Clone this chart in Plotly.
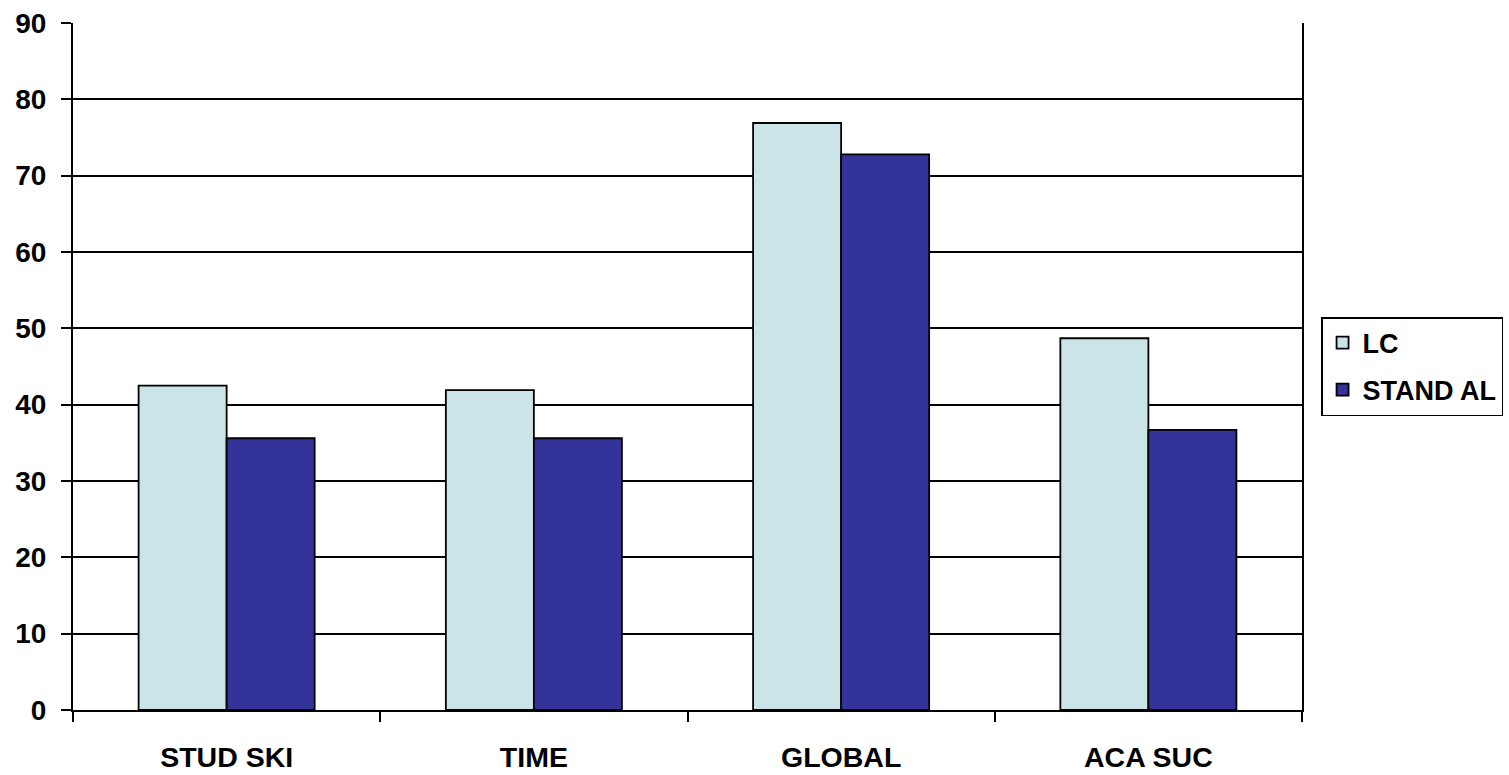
import plotly.graph_objects as go

categories = ["STUD SKI", "TIME", "GLOBAL", "ACA SUC"]
lc_values = [42.5, 41.9, 76.9, 48.7]
stand_al_values = [35.6, 35.6, 72.8, 36.7]
y_ticks = [0, 10, 20, 30, 40, 50, 60, 70, 80, 90]

positions = list(range(len(categories)))
boundaries = [p - 0.5 for p in positions] + [positions[-1] + 0.5]

FAMILY = "Liberation Sans, Arial, sans-serif"
FONT = dict(family=FAMILY, size=28, color="black", weight="bold")

fig = go.Figure()
fig.add_trace(go.Bar(
    name="LC", x=positions, y=lc_values, legendgroup="lc",
    marker=dict(color="#CBE4E8", line=dict(color="black", width=1.8)),
))
fig.add_trace(go.Bar(
    name="STAND AL", x=positions, y=stand_al_values, legendgroup="sa",
    marker=dict(color="#333399", line=dict(color="black", width=1.8)),
))
# invisible trace carrying the category labels on the overlay axis
fig.add_trace(go.Scatter(x=positions, y=[0] * len(positions), xaxis="x2",
                         mode="markers", marker=dict(opacity=0),
                         showlegend=False, hoverinfo="skip"))

fig.update_layout(
    width=1509, height=775,
    margin=dict(l=73, r=207, t=23, b=65, autoexpand=False),
    paper_bgcolor="white", plot_bgcolor="white",
    barmode="group", bargap=0.427, bargroupgap=0,
    font=FONT,
    xaxis=dict(
        range=[-0.5, len(categories) - 0.5], automargin=False,
        tickmode="array", tickvals=boundaries, showticklabels=False,
        ticks="outside", ticklen=10, tickwidth=1.5, tickcolor="black",
        showline=True, linecolor="black", linewidth=2,
        showgrid=False, zeroline=False,
    ),
    xaxis2=dict(
        overlaying="x", side="bottom", matches="x", automargin=False,
        range=[-0.5, len(categories) - 0.5],
        tickmode="array", tickvals=positions, ticktext=categories,
        ticks="", ticklabelstandoff=27, showline=False, showgrid=False,
        zeroline=False, tickfont=dict(size=28.5, family=FAMILY, weight="bold"),
    ),
    yaxis=dict(
        range=[0, 90], tickmode="array", tickvals=y_ticks, automargin=False,
        ticks="outside", ticklen=10, tickwidth=1.5, tickcolor="black",
        ticklabelstandoff=9,
        showline=True, linecolor="black", linewidth=2, mirror=True,
        showgrid=True, gridcolor="black", gridwidth=1.5, zeroline=False,
        tickfont=dict(size=28, family=FAMILY, weight="bold"),
    ),
    legend=dict(
        x=1.0155, xanchor="left", y=0.5, yanchor="middle",
        bordercolor="black", borderwidth=1.5, bgcolor="white",
        font=dict(size=27, family=FAMILY, weight="bold"),
        tracegroupgap=9, itemwidth=30,
    ),
)

fig.write_html("out.html")
